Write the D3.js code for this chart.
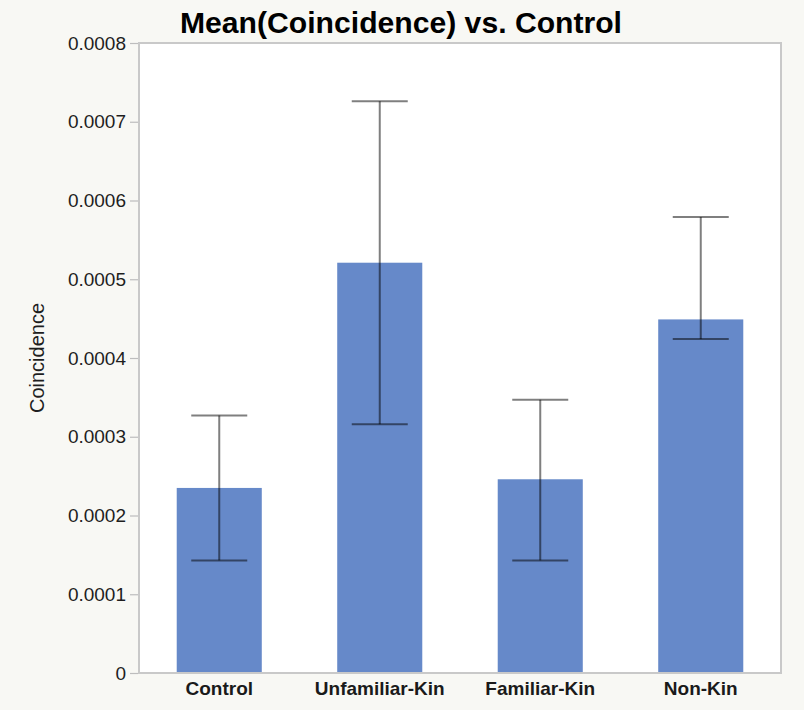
<!DOCTYPE html>
<html><head><meta charset="utf-8">
<script src="https://cdn.jsdelivr.net/npm/d3@7"></script>
<style>html,body{margin:0;padding:0;background:#f8f8f4;}svg{display:block;}</style>
</head><body>
<svg id="chart" width="804" height="710"></svg>
<script>
const categories = ["Control", "Unfamiliar-Kin", "Familiar-Kin", "Non-Kin"];
const means = [0.000235, 0.000521, 0.000246, 0.000449];
const upper = [0.000327, 0.000726, 0.000347, 0.000579];
const lower = [0.000143, 0.000316, 0.000143, 0.000424];
const yTicks = [0, 0.0001, 0.0002, 0.0003, 0.0004, 0.0005, 0.0006, 0.0007, 0.0008];
const yTickLabels = ["0", "0.0001", "0.0002", "0.0003", "0.0004", "0.0005", "0.0006", "0.0007", "0.0008"];

const svg = d3.select("#chart");
const W = 804, H = 710;
const m = {left: 139, right: 23, top: 43, bottom: 37};
const pw = W - m.left - m.right, ph = H - m.top - m.bottom;

svg.append("rect").attr("width", W).attr("height", H).attr("fill", "#f8f8f4");

const x = d3.scaleBand().domain(categories).range([m.left, m.left + pw]).paddingInner(0.47).paddingOuter(0.235);
const y = d3.scaleLinear().domain([0, 0.0008]).range([m.top + ph, m.top]);

svg.append("rect").attr("x", m.left).attr("y", m.top).attr("width", pw).attr("height", ph)
  .attr("fill", "#ffffff");

svg.selectAll("rect.bar").data(categories).join("rect").attr("class", "bar")
  .attr("x", d => x(d)).attr("width", x.bandwidth())
  .attr("y", (d, i) => y(means[i])).attr("height", (d, i) => y(0) - y(means[i]))
  .attr("fill", "#6689c9");

const capW = 56;
const eb = svg.append("g").attr("stroke", "#000").attr("stroke-opacity", 0.5).attr("stroke-width", 2);
categories.forEach((c, i) => {
  const cx = x(c) + x.bandwidth() / 2;
  eb.append("line").attr("x1", cx).attr("x2", cx).attr("y1", y(upper[i])).attr("y2", y(lower[i]));
  eb.append("line").attr("x1", cx - capW / 2).attr("x2", cx + capW / 2).attr("y1", y(upper[i])).attr("y2", y(upper[i]));
  eb.append("line").attr("x1", cx - capW / 2).attr("x2", cx + capW / 2).attr("y1", y(lower[i])).attr("y2", y(lower[i]));
});

// frame
svg.append("rect").attr("x", m.left).attr("y", m.top).attr("width", pw).attr("height", ph)
  .attr("fill", "none").attr("stroke", "#c9c9c9").attr("stroke-width", 2);

// y axis
const yAxis = d3.axisLeft(y).tickValues(yTicks).tickFormat((d, i) => yTickLabels[i]).tickSize(8).tickPadding(4);
const ga = svg.append("g").attr("transform", `translate(${m.left - 1},0)`).call(yAxis);
ga.select(".domain").remove();
ga.selectAll(".tick line").attr("stroke", "#bdbdbd").attr("stroke-width", 1.2);
ga.selectAll(".tick text").attr("fill", "#1e1e1e").style("font-family", "'Liberation Sans', Arial, sans-serif").style("font-size", "19px");

// x axis labels
const xAxis = d3.axisBottom(x).tickSize(0).tickPadding(9);
const gx = svg.append("g").attr("transform", `translate(0,${m.top + ph})`).call(xAxis);
gx.select(".domain").remove();
gx.selectAll(".tick text").attr("fill", "#1a1a1a").style("font-family", "'Liberation Sans', Arial, sans-serif")
  .style("font-size", "19px").style("font-weight", "bold");

// y title
svg.append("text").attr("transform", `translate(44,358) rotate(-90)`)
  .attr("text-anchor", "middle").attr("fill", "#1e1e1e")
  .style("font-family", "'Liberation Sans', Arial, sans-serif").style("font-size", "20px").text("Coincidence");

// title
svg.append("text").attr("x", 401).attr("y", 33).attr("text-anchor", "middle").attr("fill", "#000")
  .attr("textLength", 442).attr("lengthAdjust", "spacingAndGlyphs")
  .style("font-family", "'Liberation Sans', Arial, sans-serif").style("font-size", "29px").style("font-weight", "bold")
  .text("Mean(Coincidence) vs. Control");
</script>
</body></html>
